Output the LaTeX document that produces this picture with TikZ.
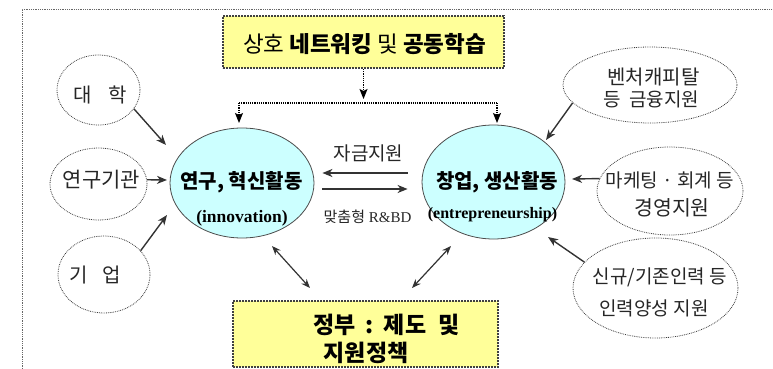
\documentclass[tikz,border=0pt]{standalone}
\usepackage{fontspec}
\setmainfont{Liberation Serif}
\newfontfamily\kr{Noto Sans CJK KR}
\usetikzlibrary{arrows.meta,shapes.geometric}
\definecolor{boxyellow}{RGB}{255,255,153}
\definecolor{ecyan}{RGB}{204,255,255}
\definecolor{lgray}{RGB}{60,60,60}
\begin{document}
\begin{tikzpicture}[x=1pt,y=-1pt,
  oval/.style={ellipse, draw=lgray, densely dotted, line width=0.8pt, inner sep=0pt},
  mainoval/.style={ellipse, draw=black!70, fill=ecyan, line width=0.8pt, inner sep=0pt},
  ybox/.style={rectangle, draw=black!75, densely dotted, line width=2pt, fill=boxyellow, inner sep=0pt},
  arr/.style={draw=black!80, line width=1.4pt, -{Stealth[length=10pt,width=8pt,inset=3pt]}},
  darr/.style={draw=black!80, line width=1.2pt, {Stealth[length=9pt,width=7pt,inset=3pt]}-{Stealth[length=9pt,width=7pt,inset=3pt]}},
  dline/.style={draw=black, densely dotted, line width=1.2pt},
  dtip/.style={-{Stealth[length=10pt,width=8pt,inset=2pt]}},
  sm/.style={font=\kr\fontsize{#1}{24}\selectfont, text=black!85, inner sep=0pt},
  sm/.default=19,
  mid/.style={font=\kr\fontsize{19}{22}\selectfont, text=black!85, inner sep=0pt},
  mtxt/.style={font=\kr\bfseries\fontsize{20}{24}\selectfont, inner sep=0pt},
  etxt/.style={font=\bfseries\fontsize{#1}{20}\selectfont, inner sep=0pt},
  btxt/.style={font=\kr\bfseries\fontsize{23}{27}\selectfont, inner sep=0pt},
  ttxt/.style={font=\kr\fontsize{22.5}{26}\selectfont, inner sep=0pt}
]
\useasboundingbox (0,0) rectangle (773,369);
\draw[densely dotted, black!60, line width=0.8pt] (22,369) -- (22,9) -- (773,9);

% boxes
\node[ybox, minimum width=281pt, minimum height=52pt] (T) at (363.5,42) {};
\node[ttxt] (Tt) at (364.5,44) {상호 \textbf{네트워킹} 및 \textbf{공동학습}};
\node[ybox, minimum width=265pt, minimum height=66pt] (B) at (365.5,334) {};
\node[btxt] (Bt1) at (386.5,325) {정부\hspace{10pt}:\hspace{10pt}제도\hspace{12pt}및};
\node[btxt] (Bt2) at (366,353) {지원정책};

% main ellipses
\node[mainoval, minimum width=144pt, minimum height=110pt] (L) at (242,183) {};
\node[mtxt] (Lt1) at (241.5,182) {연구, 혁신활동};
\node[etxt=17.5] (Lt2) at (242,218) {(innovation)};
\node[mainoval, minimum width=143pt, minimum height=114pt] (R) at (493.5,182) {};
\node[mtxt] (Rt1) at (497,182) {창업, 생산활동};
\node[etxt=16] (Rt2) at (492.5,215) {(entrepreneurship)};

% small ellipses
\node[oval, minimum width=83pt, minimum height=70pt] (dae) at (98.5,90) {};
\node[sm=20] (daet) at (100,95) {대\hspace{16pt}학};
\node[oval, minimum width=97pt, minimum height=72pt] (yeon) at (98.5,184) {};
\node[sm=21] (yeont) at (101.5,180) {연구기관};
\node[oval, minimum width=92pt, minimum height=77pt] (gi) at (104,274.5) {};
\node[sm=20] (git) at (95,275) {기\hspace{14pt}업};

\node[oval, minimum width=174pt, minimum height=76pt] (ven) at (650,85) {};
\node[sm=20] (vent1) at (653.5,77) {벤처캐피탈};
\node[sm] (vent2) at (651.5,99) {등\hspace{8pt}금융지원};
\node[oval, minimum width=146pt, minimum height=88pt] (mkt) at (670,191) {};
\node[sm] (mktt1) at (670,180) {마케팅 · 회계 등};
\node[sm=20.5] (mktt2) at (672,208) {경영지원};
\node[oval, minimum width=165pt, minimum height=100pt] (sin) at (655.5,288) {};
\node[sm] (sint1) at (660,277) {신규/기존인력 등};
\node[sm] (sint2) at (654,308) {인력양성 지원};

% middle labels
\node[mid] (fund) at (368.5,153) {자금지원};
\node[inner sep=0pt, font=\fontsize{15}{18}\selectfont, text=black!85] (rbd) at (367.5,217) {{\kr 맞춤형} R\&BD};

% dotted connectors from top box
\coordinate (hl) at (239,103);
\coordinate (hr) at (497,103);
\draw[dline, dtip, shorten >=4pt] (T.south) -- (T.south |- hl);
\draw[dline] (hl) -- (hr);
\draw[dline, dtip] (hl) -- ++(0,20);
\draw[dline, dtip] (hr) -- ++(0,20);

% arrows into left ellipse
\coordinate (t1) at (166,145);
\coordinate (t2) at (167,180);
\coordinate (t3) at (167,215);
\draw[arr] (dae.-28) -- (t1);
\draw[arr] (yeon.5) -- (t2);
\draw[arr] (gi.33) -- (t3);

% arrows into right ellipse
\coordinate (t4) at (546,140);
\coordinate (t5) at (572,179);
\coordinate (t6) at (548,237);
\draw[arr] (ven.193) -- (t4);
\draw[arr] (mkt.170) -- (t5);
\draw[arr] (sin.160) -- (t6);

% arrows between main ellipses
\draw[arr] ([shift={(-14,-9)}]R.west) -- ([shift={(8,-10)}]L.east);
\draw[arr] ([shift={(8,6)}]L.east) -- ([shift={(-14,7)}]R.west);

% double arrows to bottom box
\coordinate (d1a) at (272,246);
\coordinate (d1b) at (310,288);
\coordinate (d2a) at (451,246);
\coordinate (d2b) at (412,288);
\draw[darr] (d1a) -- (d1b);
\draw[darr] (d2a) -- (d2b);
\end{tikzpicture}
\end{document}
